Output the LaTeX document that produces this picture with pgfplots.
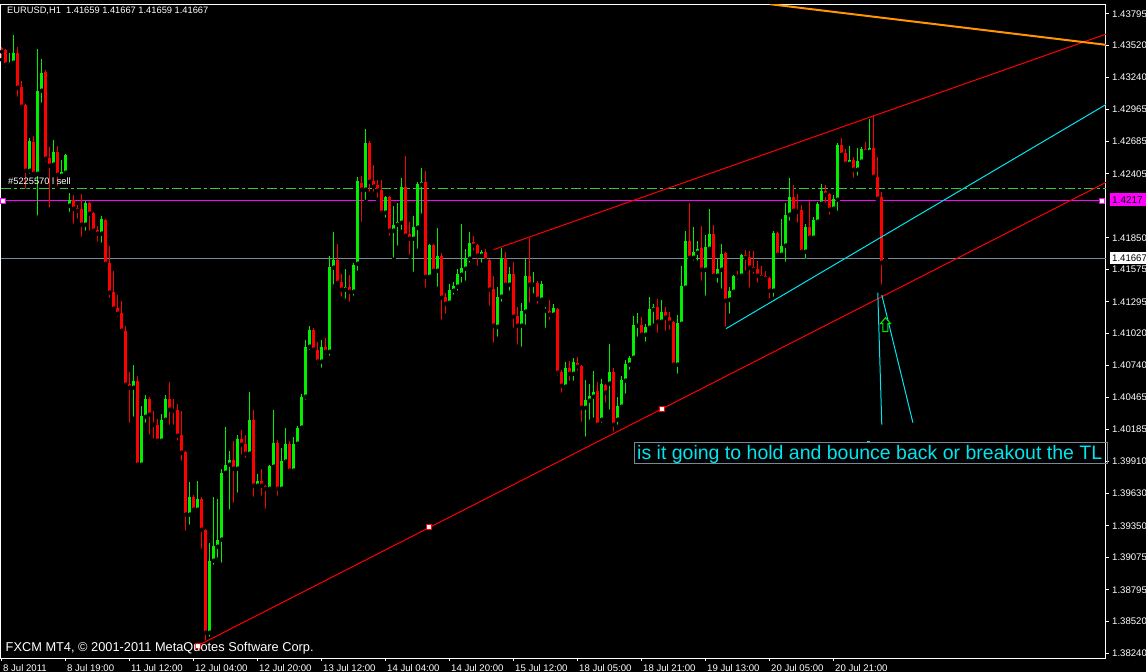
\documentclass[border=0pt]{standalone}
\usepackage{fontspec}
\setmainfont{Liberation Sans}
\usepackage{pgfplots}
\usepackage{pgfplotstable}
\pgfplotsset{compat=1.18}

\definecolor{bull}{RGB}{0,240,0}
\definecolor{bear}{RGB}{255,0,0}
\definecolor{bidline}{RGB}{119,136,153}
\definecolor{orderline}{RGB}{50,205,50}
\definecolor{levelline}{RGB}{255,0,255}
\definecolor{trendcyan}{RGB}{0,230,240}
\definecolor{trendorange}{RGB}{255,150,0}

% EURUSD H1 bars, 8 Jul 2011 - 20 Jul 2011 (open high low close)
\pgfplotstableread{
O H L C
1.43500 1.43509 1.43396 1.43465
1.43483 1.43491 1.43309 1.43353
1.43353 1.43457 1.43318 1.43370
1.43370 1.43613 1.43361 1.43457
1.43457 1.43509 1.43057 1.43153
1.43162 1.43214 1.42979 1.42988
1.43005 1.43014 1.42259 1.42432
1.42432 1.42719 1.42389 1.42693
1.42684 1.42736 1.42389 1.42406
1.42406 1.43491 1.42025 1.43127
1.43127 1.43405 1.43005 1.43283
1.43292 1.43309 1.42493 1.42537
1.42545 1.42641 1.42094 1.42476
1.42485 1.42702 1.42450 1.42597
1.42597 1.42650 1.42285 1.42398
1.42389 1.42528 1.42372 1.42424
1.42415 1.42580 1.42406 1.42571
1.42129 1.42242 1.42059 1.42181
1.42181 1.42224 1.41955 1.42103
1.42111 1.42137 1.41999 1.42085
1.42103 1.42233 1.41842 1.41964
1.41964 1.42172 1.41894 1.42155
1.42155 1.42163 1.41894 1.42059
1.42068 1.42077 1.41894 1.41912
1.41920 1.41955 1.41799 1.41886
1.41886 1.42042 1.41790 1.42016
1.42007 1.42016 1.41617 1.41625
1.41634 1.41782 1.41313 1.41374
1.41382 1.41564 1.41217 1.41235
1.41243 1.41356 1.41148 1.41191
1.41200 1.41304 1.41035 1.41044
1.41044 1.41087 1.40540 1.40575
1.40584 1.40688 1.40228 1.40549
1.40549 1.40749 1.40280 1.40610
1.40610 1.40653 1.39872 1.39881
1.39881 1.40393 1.39846 1.40306
1.40297 1.40488 1.40228 1.40453
1.40453 1.40471 1.40124 1.40315
1.40236 1.40349 1.40089 1.40228
1.40228 1.40280 1.40046 1.40089
1.40089 1.40323 1.40080 1.40271
1.40271 1.40488 1.40236 1.40453
1.40453 1.40601 1.40210 1.40358
1.40358 1.40453 1.40210 1.40349
1.40358 1.40410 1.40072 1.40132
1.40141 1.40349 1.39898 1.39985
1.39993 1.40002 1.39290 1.39447
1.39447 1.39733 1.39342 1.39603
1.39603 1.39620 1.39481 1.39490
1.39490 1.39742 1.39473 1.39585
1.39585 1.39603 1.39134 1.39316
1.39316 1.39325 1.38336 1.38422
1.38422 1.39204 1.38370 1.39047
1.39047 1.39603 1.38995 1.39178
1.39169 1.39585 1.39056 1.39230
1.39230 1.39846 1.39013 1.39811
1.39811 1.40210 1.39802 1.39881
1.39881 1.40002 1.39473 1.39924
1.39924 1.40089 1.39533 1.39846
1.39846 1.40141 1.39620 1.40106
1.40106 1.40184 1.39950 1.40054
1.40063 1.40141 1.39924 1.39976
1.39976 1.40514 1.39967 1.40271
1.40271 1.40358 1.39585 1.39698
1.39698 1.39802 1.39672 1.39742
1.39742 1.39846 1.39594 1.39698
1.39698 1.39707 1.39481 1.39672
1.39672 1.39881 1.39664 1.39872
1.39863 1.40358 1.39855 1.40072
1.40072 1.40098 1.39594 1.39672
1.39672 1.40028 1.39664 1.39915
1.39907 1.40202 1.39881 1.40063
1.40063 1.40089 1.39802 1.39829
1.39829 1.40124 1.39820 1.40063
1.40063 1.40219 1.40028 1.40202
1.40202 1.40497 1.40167 1.40471
1.40471 1.40966 1.40427 1.40905
1.40905 1.41087 1.40861 1.41052
1.41052 1.41070 1.40844 1.40879
1.40879 1.40948 1.40731 1.40775
1.40775 1.40966 1.40705 1.40905
1.40905 1.40983 1.40818 1.40861
1.40861 1.41695 1.40809 1.41599
1.41591 1.41903 1.41426 1.41660
1.41660 1.41799 1.41452 1.41460
1.41469 1.41538 1.41321 1.41400
1.41400 1.41582 1.41304 1.41426
1.41426 1.41530 1.41278 1.41382
1.41382 1.41634 1.41330 1.41617
1.41625 1.42380 1.41547 1.42346
1.42328 1.42389 1.41972 1.42268
1.42268 1.42797 1.42163 1.42676
1.42676 1.42693 1.42233 1.42337
1.42346 1.42485 1.42233 1.42294
1.42311 1.42354 1.42181 1.42259
1.42268 1.42354 1.42033 1.42068
1.42068 1.42216 1.42007 1.42207
1.42207 1.42216 1.41851 1.41912
1.41912 1.42129 1.41660 1.41964
1.41964 1.42155 1.41764 1.41990
1.41981 1.42372 1.41903 1.42294
1.42294 1.42563 1.41851 1.41868
1.41886 1.41990 1.41686 1.41842
1.41842 1.42042 1.41538 1.41946
1.41938 1.42337 1.41738 1.42320
1.42311 1.42459 1.42042 1.42337
1.42337 1.42432 1.41400 1.41512
1.41512 1.41799 1.41504 1.41790
1.41790 1.41799 1.41530 1.41564
1.41564 1.41938 1.41408 1.41695
1.41695 1.41721 1.41122 1.41330
1.41339 1.41374 1.41174 1.41278
1.41287 1.41452 1.41252 1.41400
1.41391 1.41469 1.41339 1.41434
1.41426 1.41582 1.41374 1.41538
1.41530 1.41972 1.41443 1.41591
1.41582 1.41755 1.41460 1.41677
1.41669 1.41903 1.41617 1.41808
1.41816 1.41868 1.41721 1.41782
1.41790 1.41799 1.41591 1.41695
1.41695 1.41747 1.41617 1.41729
1.41729 1.41755 1.41617 1.41651
1.41660 1.41669 1.41243 1.41400
1.41408 1.41521 1.40922 1.41087
1.41078 1.41426 1.40974 1.41339
1.41339 1.41764 1.41278 1.41677
1.41677 1.41729 1.41426 1.41443
1.41443 1.41599 1.41374 1.41538
1.41538 1.41643 1.41052 1.41165
1.41174 1.41252 1.40905 1.41087
1.41087 1.41287 1.40887 1.41217
1.41209 1.41669 1.41078 1.41521
1.41521 1.41851 1.41269 1.41443
1.41443 1.41556 1.41348 1.41460
1.41460 1.41478 1.41261 1.41321
1.41313 1.41478 1.41278 1.41452
1.41217 1.41252 1.41052 1.41226
1.41217 1.41313 1.41122 1.41183
1.41183 1.41278 1.41148 1.41243
1.41235 1.41243 1.40636 1.40679
1.40688 1.40705 1.40488 1.40566
1.40558 1.40775 1.40532 1.40723
1.40723 1.40783 1.40592 1.40670
1.40670 1.40809 1.40592 1.40775
1.40766 1.40818 1.40679 1.40731
1.40740 1.40749 1.40236 1.40375
1.40375 1.40618 1.40106 1.40445
1.40436 1.40584 1.40254 1.40480
1.40471 1.40697 1.40271 1.40514
1.40523 1.40601 1.40219 1.40228
1.40271 1.40627 1.40228 1.40584
1.40575 1.40584 1.40401 1.40506
1.40584 1.40931 1.40341 1.40688
1.40688 1.40723 1.40150 1.40228
1.40271 1.40471 1.40210 1.40393
1.40384 1.40653 1.40367 1.40618
1.40610 1.40792 1.40480 1.40757
1.40749 1.40827 1.40688 1.40809
1.40809 1.41174 1.40792 1.41096
1.41087 1.41200 1.40974 1.41096
1.41096 1.41165 1.40974 1.41009
1.41009 1.41104 1.40931 1.41078
1.41070 1.41339 1.41035 1.41235
1.41226 1.41278 1.41087 1.41252
1.41252 1.41321 1.41009 1.41122
1.41122 1.41313 1.41104 1.41209
1.41209 1.41252 1.41026 1.41157
1.41165 1.41209 1.41035 1.41113
1.41122 1.41130 1.40714 1.40749
1.40749 1.41183 1.40653 1.41113
1.41104 1.41608 1.41096 1.41434
1.41417 1.41912 1.41391 1.41825
1.41825 1.42155 1.41660 1.41677
1.41677 1.41946 1.41634 1.41729
1.41721 1.41825 1.41634 1.41755
1.41764 1.41955 1.41460 1.41573
1.41573 1.41877 1.41330 1.41773
1.41755 1.42103 1.41721 1.41886
1.41886 1.41964 1.41495 1.41521
1.41521 1.41669 1.41443 1.41582
1.41573 1.41799 1.41391 1.41712
1.41721 1.41729 1.41061 1.41304
1.41313 1.41426 1.41174 1.41391
1.41382 1.41530 1.41356 1.41521
1.41530 1.41564 1.41469 1.41512
1.41521 1.41712 1.41504 1.41703
1.41703 1.41747 1.41547 1.41677
1.41686 1.41738 1.41400 1.41591
1.41599 1.41738 1.41521 1.41573
1.41582 1.41651 1.41443 1.41521
1.41530 1.41608 1.41469 1.41504
1.41521 1.41564 1.41460 1.41495
1.41504 1.41512 1.41304 1.41391
1.41391 1.41912 1.41321 1.41894
1.41894 1.41903 1.41695 1.41703
1.41703 1.42016 1.41695 1.41782
1.41782 1.42155 1.41625 1.42051
1.42051 1.42372 1.41981 1.42207
1.42207 1.42311 1.42051 1.42085
1.42094 1.42233 1.41964 1.42077
1.42094 1.42137 1.41695 1.41729
1.41729 1.41972 1.41651 1.41946
1.41946 1.42172 1.41842 1.41851
1.41851 1.42033 1.41842 1.42007
1.41990 1.42163 1.41964 1.42146
1.42146 1.42320 1.42111 1.42259
1.42259 1.42311 1.42137 1.42224
1.42233 1.42242 1.42033 1.42094
1.42103 1.42224 1.42085 1.42189
1.42181 1.42676 1.42068 1.42658
1.42658 1.42719 1.42537 1.42571
1.42589 1.42623 1.42459 1.42493
1.42493 1.42650 1.42467 1.42528
1.42528 1.42554 1.42354 1.42441
1.42441 1.42632 1.42372 1.42519
1.42511 1.42641 1.42493 1.42623
1.42623 1.42684 1.42571 1.42597
1.42597 1.42884 1.42589 1.42632
1.42632 1.42919 1.42372 1.42380
1.42380 1.42554 1.42172 1.42189
1.42207 1.42250 1.41426 1.41634
1.41659 1.41667 1.41659 1.41667
}\ohlc

\begin{document}
\begin{tikzpicture}[x=1pt,y=1pt]
\fill[black] (0,0) rectangle (1146,672);
\begin{axis}[
  at={(2.5,12)}, anchor=south west,
  scale only axis, width=1105pt, height=654pt,
  xmin=-0.25, xmax=276, ymin=1.38201, ymax=1.43878,
  axis line style={white, line width=1pt},
  clip mode=individual,
  tick align=outside, major tick length=3pt,
  every tick/.style={white, line width=1pt},
  xtick pos=left, ytick pos=right,
  yticklabel pos=right,
  xtick={0,16,...,208},
  xticklabels={8 Jul 2011,8 Jul 19:00,11 Jul 12:00,12 Jul 04:00,12 Jul 20:00,13 Jul 12:00,14 Jul 04:00,14 Jul 20:00,15 Jul 12:00,18 Jul 05:00,18 Jul 21:00,19 Jul 13:00,20 Jul 05:00,20 Jul 21:00},
  ytick={1.38240,1.38520,1.38795,1.39075,1.39350,1.39630,1.39910,1.40185,1.40465,1.40740,1.41020,1.41295,1.41575,1.41850,1.42405,1.42685,1.42965,1.43240,1.43520,1.43795},
  yticklabels={1.38240,1.38520,1.38795,1.39075,1.39350,1.39630,1.39910,1.40185,1.40465,1.40740,1.41020,1.41295,1.41575,1.41850,1.42405,1.42685,1.42965,1.43240,1.43520,1.43795},
  ticklabel style={font=\fontsize{9.6}{10}\selectfont, text=white, inner sep=0pt},
  xticklabel style={anchor=north west, xshift=1pt, yshift=-3pt},
  yticklabel style={anchor=west, xshift=3pt},
]
% horizontal levels: order price, level, bid
\addplot[orderline, line width=1pt, dash pattern=on 10pt off 3pt on 3pt off 3pt] coordinates {(-0.25,1.42276) (276,1.42276)};
\addplot[levelline, line width=1pt] coordinates {(0.375,1.42170) (275.125,1.42170)};
\addplot[bidline, line width=1pt] coordinates {(-0.25,1.41667) (276,1.41667)};

% candle wicks
\addplot[only marks, mark=none, forget plot,
  error bars/.cd, y dir=plus, y explicit, error mark=none,
  error bar style={color=bull, line width=1pt}]
  table[x expr=\coordindex, y expr={\thisrow{C}>=\thisrow{O} ? \thisrow{L} : nan},
        y error plus expr={\thisrow{H}-\thisrow{L}}] {\ohlc};
\addplot[only marks, mark=none, forget plot,
  error bars/.cd, y dir=plus, y explicit, error mark=none,
  error bar style={color=bear, line width=1pt}]
  table[x expr=\coordindex, y expr={\thisrow{C}<\thisrow{O} ? \thisrow{L} : nan},
        y error plus expr={\thisrow{H}-\thisrow{L}}] {\ohlc};
% candle bodies
\addplot[only marks, mark=none, forget plot,
  error bars/.cd, y dir=plus, y explicit, error mark=none,
  error bar style={color=bull, line width=3pt}]
  table[x expr=\coordindex, y expr={\thisrow{C}>=\thisrow{O} ? \thisrow{O} : nan},
        y error plus expr={\thisrow{C}-\thisrow{O}}] {\ohlc};
\addplot[only marks, mark=none, forget plot,
  error bars/.cd, y dir=plus, y explicit, error mark=none,
  error bar style={color=bear, line width=3pt}]
  table[x expr=\coordindex, y expr={\thisrow{C}<\thisrow{O} ? \thisrow{C} : nan},
        y error plus expr={\thisrow{O}-\thisrow{C}}] {\ohlc};

% trend lines
\addplot[bear, line width=1pt] coordinates {(48.95,1.38310) (276,1.42331)};
\addplot[bear, line width=1pt] coordinates {(122.875,1.41747) (276,1.43618)};
\addplot[trendcyan, line width=1pt] coordinates {(181,1.41061) (276,1.43007)};
\addplot[trendorange, line width=2pt] coordinates {(192,1.43878) (276,1.43525)};
\addplot[trendcyan, line width=1pt] coordinates {(218.95,1.41374) (219.95,1.40228)};
\addplot[trendcyan, line width=1pt] coordinates {(219.95,1.41354) (227.725,1.40245)};
% anchor tick of the text label
\addplot[trendcyan, line width=1.5pt] coordinates {(216.2,1.40080) (217.0,1.40080)};

% anchor points of the lines
\addplot[only marks, mark=square*, mark size=2.5pt, mark options={fill=white, draw=bear, line width=1pt}]
  coordinates {(48.95,1.38310) (106.875,1.39336) (164.95,1.40364)};
\addplot[only marks, mark=square*, mark size=2.5pt, mark options={fill=white, draw=levelline, line width=1pt}]
  coordinates {(0.375,1.42170) (275.125,1.42170)};

% up arrow
\addplot[draw=bull, fill=black, line width=1pt] coordinates {
  (220.875,1.41157) (222.125,1.41105) (221.5,1.41105) (221.5,1.41035)
  (220.25,1.41035) (220.25,1.41105) (219.625,1.41105)} -- cycle;
\end{axis}

% chart texts
\node[anchor=base west, inner sep=0pt, text=white, font=\fontsize{9.3}{11}\selectfont]
  at (7,658) {EURUSD,H1\ \ 1.41659 1.41667 1.41659 1.41667};
\node[anchor=base west, inner sep=0pt, text=white, font=\fontsize{9.3}{11}\selectfont]
  at (8,487) {\#5225570 l sell};
\node[anchor=base west, inner sep=0pt, text=white, font=\fontsize{12.8}{14}\selectfont]
  at (5.5,20) {FXCM MT4, © 2001-2011 MetaQuotes Software Corp.};
\draw[bidline, line width=1pt] (634.5,208.5) rectangle (1107.5,229.5);
\node[anchor=base west, inner sep=0pt, text=trendcyan, font=\fontsize{19.5}{22}\selectfont]
  at (637,212) {is it going to hold and bounce back or breakout the TL};

% price labels on the scale
\fill[levelline] (1110,466) rectangle (1146,479);
\node[anchor=base west, inner sep=0pt, text=black, font=\fontsize{10}{10}\selectfont] at (1112,468.5) {1.4217};
\fill[white] (1110,408) rectangle (1146,420);
\node[anchor=base west, inner sep=0pt, text=black, font=\fontsize{9.6}{10}\selectfont] at (1112,410.5) {1.41667};

% the page is exactly the chart window
\pgfresetboundingbox
\path[use as bounding box] (0,0) rectangle (1146,672);
\end{tikzpicture}
\end{document}
